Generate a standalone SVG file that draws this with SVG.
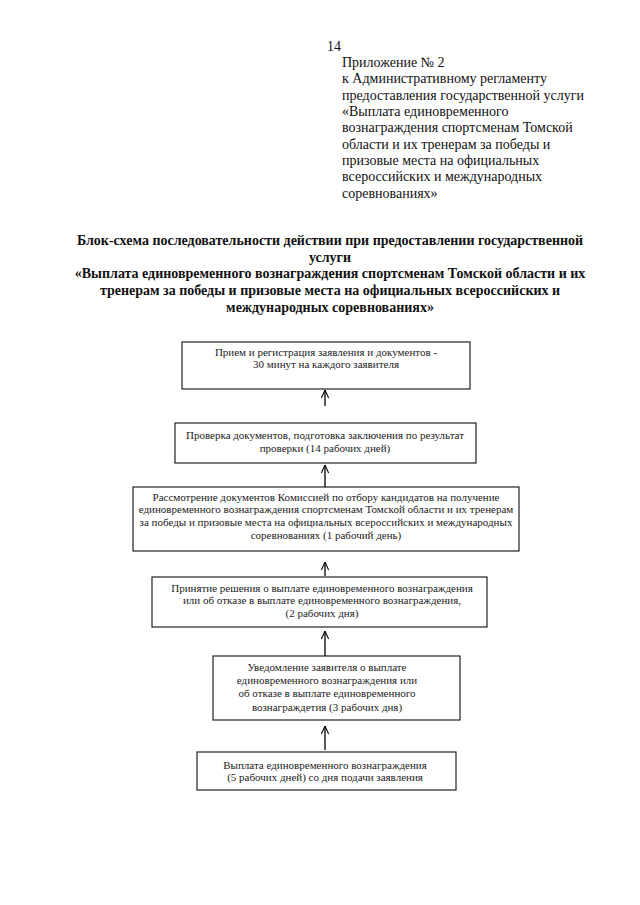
<svg xmlns="http://www.w3.org/2000/svg" width="640" height="905" viewBox="0 0 640 905">
<defs>
<style>
.hd{font-family:"Liberation Serif","Times New Roman",serif;font-size:14px;fill:#111}
.tt{font-family:"Liberation Serif","Times New Roman",serif;font-size:14px;font-weight:bold;fill:#111;text-anchor:middle}
.bx{fill:#fff;stroke:#222;stroke-width:1.2}
.bt{font-family:"Liberation Serif","Times New Roman",serif;font-size:11px;fill:#222;text-anchor:middle}
.ar{stroke:#000;stroke-width:1.3;fill:none}
</style>
<marker id="ah" viewBox="0 0 10 10" refX="10" refY="5" markerWidth="9" markerHeight="8" markerUnits="userSpaceOnUse" orient="auto">
<path d="M0,0.5 L10,5 L0,9.5" fill="none" stroke="#000" stroke-width="1.3"/>
</marker>
</defs>
<rect width="640" height="905" fill="#fff"/>
<g id="header">
<text class="hd" x="327" y="51">14</text>
<text class="hd" x="342" y="67">Приложение № 2</text>
<text class="hd" x="342" y="83">к Административному регламенту</text>
<text class="hd" x="342" y="100">предоставления государственной услуги</text>
<text class="hd" x="342" y="116">«Выплата единовременного</text>
<text class="hd" x="342" y="132">вознаграждения спортсменам Томской</text>
<text class="hd" x="342" y="149">области и их тренерам за победы и</text>
<text class="hd" x="342" y="165">призовые места на официальных</text>
<text class="hd" x="342" y="181">всероссийских и международных</text>
<text class="hd" x="342" y="198">соревнованиях»</text>
</g>
<g id="title">
<text class="tt" x="330" y="245">Блок-схема последовательности действии при предоставлении государственной</text>
<text class="tt" x="330" y="262">услуги</text>
<text class="tt" x="330" y="278">«Выплата единовременного вознаграждения спортсменам Томской области и их</text>
<text class="tt" x="330" y="295">тренерам за победы и призовые места на официальных всероссийских и</text>
<text class="tt" x="330" y="312">международных соревнованиях»</text>
</g>
<g id="box1">
<rect class="bx" x="182" y="342" width="288" height="47"/>
<text class="bt" x="326" y="356">Прием и регистрация заявления и документов -</text>
<text class="bt" x="326" y="368">30 минут на каждого заявителя</text>
</g>
<g id="box2">
<rect class="bx" x="175" y="423" width="301" height="40"/>
<text class="bt" x="325" y="439">Проверка документов, подготовка заключения по результат</text>
<text class="bt" x="325" y="452">проверки (14 рабочих дней)</text>
</g>
<g id="box3">
<rect class="bx" x="133" y="487" width="386" height="64"/>
<text class="bt" x="326" y="501">Рассмотрение документов Комиссией по отбору кандидатов на получение</text>
<text class="bt" x="326" y="513">единовременного вознаграждения спортсменам Томской области и их тренерам</text>
<text class="bt" x="326" y="526">за победы и призовые места на официальных всероссийских и международных</text>
<text class="bt" x="326" y="539">соревнованиях (1 рабочий день)</text>
</g>
<g id="box4">
<rect class="bx" x="152" y="577" width="335" height="50"/>
<text class="bt" x="322" y="592">Принятие решения о выплате единовременного вознаграждения</text>
<text class="bt" x="322" y="604">или об отказе в выплате единовременного вознаграждения,</text>
<text class="bt" x="322" y="617">(2 рабочих дня)</text>
</g>
<g id="box5">
<rect class="bx" x="213" y="656" width="247" height="64"/>
<text class="bt" x="327" y="671">Уведомление заявителя о выплате</text>
<text class="bt" x="327" y="684">единовременного вознаграждения или</text>
<text class="bt" x="327" y="697">об отказе в выплате единовременного</text>
<text class="bt" x="327" y="711">вознаграждетия (3 рабочих дня)</text>
</g>
<g id="box6">
<rect class="bx" x="197" y="752" width="259" height="38"/>
<text class="bt" x="325" y="769">Выплата единовременного вознаграждения</text>
<text class="bt" x="325" y="781">(5 рабочих дней) со дня подачи заявления</text>
</g>
<g id="connectors">
<line class="ar" x1="325" y1="406" x2="325" y2="390" marker-end="url(#ah)"/>
<line class="ar" x1="325" y1="487" x2="325" y2="465" marker-end="url(#ah)"/>
<line class="ar" x1="325" y1="576" x2="325" y2="562" marker-end="url(#ah)"/>
<line class="ar" x1="325" y1="656" x2="325" y2="631" marker-end="url(#ah)"/>
<line class="ar" x1="325" y1="750" x2="325" y2="726" marker-end="url(#ah)"/>
</g>
</svg>
